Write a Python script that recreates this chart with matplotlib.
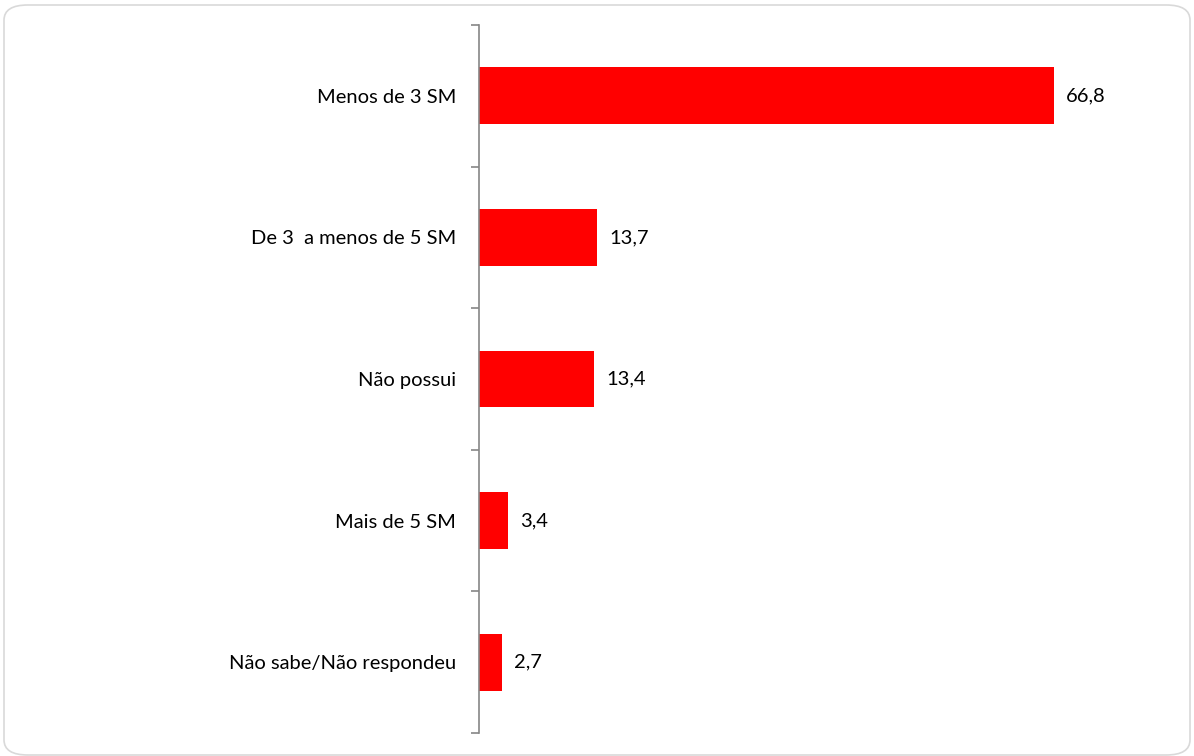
import matplotlib.pyplot as plt
from matplotlib.patches import FancyBboxPatch

# Dados
categorias = ['Menos de 3 SM', 'De 3  a menos de 5 SM', 'Não possui',
              'Mais de 5 SM', 'Não sabe/Não respondeu']
valores = [66.8, 13.7, 13.4, 3.4, 2.7]
rotulos = ['66,8', '13,7', '13,4', '3,4', '2,7']

plt.rcParams['font.family'] = ['Lato', 'DejaVu Sans']

fig = plt.figure(figsize=(11.94, 7.56), dpi=100)

# Moldura arredondada
moldura = FancyBboxPatch((4 / 1194, 1 / 756), 1186 / 1194, 750 / 756,
                         boxstyle='round,pad=0,rounding_size=0.02',
                         transform=fig.transFigure, facecolor='none',
                         edgecolor='#d9d9d9', linewidth=1.2, zorder=-1)
fig.patches.append(moldura)

ax = fig.add_axes([479 / 1194, 23 / 756, 689 / 1194, 708 / 756])
ax.set_facecolor('none')

pos = list(range(len(categorias)))
ax.barh(pos, valores, height=0.4, color='#ff0000')
ax.set_ylim(len(categorias) - 0.5, -0.5)
ax.set_xlim(0, 80)

for p, v, r in zip(pos, valores, rotulos):
    ax.text(v + 1.4, p, r, va='center', ha='left', fontsize=14.5, color='black')

# eixo vertical com marcas entre as categorias
ax.set_yticks([p - 0.5 for p in pos] + [len(categorias) - 0.5])
ax.set_yticklabels([])
ax.set_yticks(pos, minor=True)
ax.set_yticklabels(categorias, minor=True, fontsize=14.5)
ax.tick_params(axis='y', which='minor', length=0, pad=16.5)
ax.tick_params(axis='y', which='major', length=6, color='#868686', width=1.2)
ax.set_xticks([])
for s in ['top', 'right', 'bottom']:
    ax.spines[s].set_visible(False)
ax.spines['left'].set_color('#868686')
ax.spines['left'].set_linewidth(1.2)

plt.savefig('out.png', dpi=100)
